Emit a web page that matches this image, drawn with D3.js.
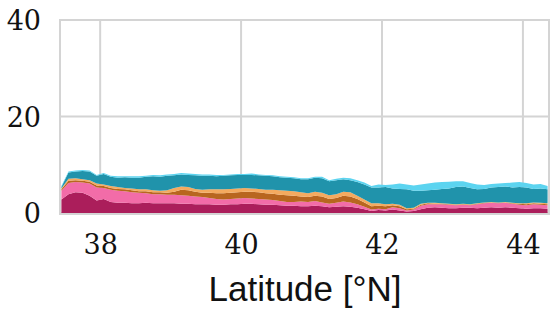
<!DOCTYPE html>
<html><head><meta charset="utf-8">
<script src="https://cdn.jsdelivr.net/npm/d3@7"></script>
<style>body{margin:0;background:#fff}svg{display:block}</style>
</head><body>
<svg id="c" width="552" height="309"></svg>
<script>
const latitude = [37.45,37.55,37.65,37.75,37.85,37.95,38.05,38.15,38.25,38.35,38.45,38.55,38.65,38.75,38.85,38.95,39.05,39.15,39.25,39.35,39.45,39.55,39.65,39.75,39.85,39.95,40.05,40.15,40.25,40.35,40.45,40.55,40.65,40.75,40.85,40.95,41.05,41.15,41.25,41.35,41.45,41.55,41.65,41.75,41.85,41.95,42.05,42.15,42.25,42.35,42.45,42.55,42.65,42.75,42.85,42.95,43.05,43.15,43.25,43.35,43.45,43.55,43.65,43.75,43.85,43.95,44.05,44.15,44.25,44.35];
const s1 = [2.8,3.9,4.3,4.2,3.6,2.6,2.9,2.3,2.1,2.1,2.0,2.0,2.1,2.0,2.0,2.0,2.0,1.9,1.9,1.8,1.8,1.8,1.7,1.7,1.8,1.8,1.9,1.9,1.8,1.7,1.7,1.6,1.5,1.5,1.4,1.4,1.5,1.4,1.2,1.3,1.4,1.3,1.1,0.8,0.4,0.6,0.5,0.7,0.5,0.3,0.4,0.8,1.1,1.2,1.1,1.0,1.0,1.1,1.1,1.0,1.1,1.2,1.1,1.2,1.1,1.0,0.9,1.0,1.0,0.9];
const s2 = [1.8,2.3,2.1,2.1,2.5,2.7,2.3,2.5,2.5,2.4,2.3,2.2,2.0,1.9,1.9,1.8,1.8,1.8,1.7,1.6,1.5,1.3,1.2,1.1,1.1,1.2,1.2,1.1,1.1,1.1,1.0,0.9,0.8,0.8,1.0,0.9,1.0,0.8,0.7,0.8,1.0,0.9,0.7,0.5,0.3,0.3,0.3,0.5,0.5,0.2,0.3,0.7,0.7,0.6,0.7,0.7,0.6,0.6,0.5,0.8,0.9,0.9,0.9,0.9,0.8,0.7,0.7,0.8,0.7,0.7];
const s3 = [0.3,0.5,0.4,0.4,0.4,0.4,0.4,0.4,0.4,0.4,0.4,0.3,0.4,0.4,0.4,0.4,0.6,1.1,1.1,1.0,0.9,1.1,1.2,1.3,1.3,1.3,1.3,1.4,1.4,1.3,1.3,1.3,1.4,1.3,1.0,1.0,1.1,1.2,1.0,1.0,1.2,1.2,1.1,0.9,0.7,0.6,0.6,0.4,0.4,0.3,0.2,0.2,0.2,0.1,0.1,0.1,0.1,0.1,0.1,0.1,0.1,0.1,0.1,0.1,0.1,0.2,0.2,0.2,0.2,0.2];
const s4 = [0.2,0.4,0.4,0.3,0.3,0.4,0.3,0.4,0.4,0.3,0.4,0.4,0.4,0.4,0.3,0.5,0.8,0.7,0.7,0.6,0.6,0.7,0.8,0.8,0.8,0.8,0.8,0.7,0.7,0.7,0.8,0.9,0.9,0.9,0.9,0.8,0.8,0.8,0.8,0.8,0.8,0.9,0.7,0.6,0.6,0.5,0.4,0.3,0.3,0.2,0.2,0.2,0.1,0.2,0.1,0.1,0.1,0.1,0.1,0.1,0.1,0.1,0.1,0.1,0.1,0.1,0.2,0.2,0.2,0.2];
const s5 = [0.3,1.3,1.4,1.7,1.8,1.6,2.2,1.9,1.9,2.2,2.2,2.4,2.6,2.9,2.9,3.0,2.6,2.5,2.5,2.8,2.9,2.8,2.7,2.8,2.8,2.8,2.7,2.8,2.8,2.9,2.8,2.7,2.7,2.7,2.7,2.9,2.9,3.0,2.9,2.9,2.6,2.5,2.8,3.1,3.3,3.3,3.6,3.2,3.3,3.9,3.5,2.7,2.6,2.7,3.0,3.2,3.6,3.6,3.4,2.9,2.8,3.0,3.2,3.2,3.2,3.4,3.3,2.8,3.0,2.9];
const s6 = [0.2,0.2,0.2,0.2,0.2,0.2,0.2,0.2,0.3,0.2,0.3,0.3,0.2,0.3,0.3,0.3,0.3,0.3,0.3,0.3,0.3,0.3,0.3,0.2,0.2,0.2,0.2,0.3,0.2,0.2,0.2,0.2,0.2,0.2,0.2,0.2,0.2,0.3,0.2,0.3,0.3,0.4,0.4,0.4,0.3,0.6,0.4,0.8,1.1,1.0,1.1,1.3,1.4,1.5,1.4,1.4,1.2,1.1,1.0,1.0,0.8,0.7,0.7,0.7,1.0,1.0,0.9,0.9,0.9,0.7];
const seriesKeys = ["s1","s2","s3","s4","s5","s6"];
const seriesColors = ["#ab1e5b","#f26ca8","#b8661f","#f4aa5f","#2093ab","#5cd4f0"];
const xTicks = [38,40,42,44];
const yTicks = [0,20,40];

const table = latitude.map((lat,i)=>({lat, s1:s1[i], s2:s2[i], s3:s3[i], s4:s4[i], s5:s5[i], s6:s6[i]}));

const svg = d3.select("#c");
const L=60, R=549, T=20, B=213;
const x = d3.scaleLinear().domain([37.43,44.37]).range([L,R]);
const y = d3.scaleLinear().domain([0,40]).range([B,T]);

svg.append("defs").append("clipPath").attr("id","clip")
  .append("rect").attr("x",L).attr("y",T).attr("width",R-L).attr("height",B-T);

const grid = svg.append("g");
grid.selectAll(".vx").data(xTicks).join("line")
  .attr("x1",d=>x(d)).attr("x2",d=>x(d)).attr("y1",T).attr("y2",B)
  .attr("stroke","#d4d4d4").attr("stroke-width",2);
grid.selectAll(".hy").data(yTicks).join("line")
  .attr("x1",L).attr("x2",R).attr("y1",d=>y(d)).attr("y2",d=>y(d))
  .attr("stroke","#d4d4d4").attr("stroke-width",2);
grid.append("rect").attr("x",L).attr("y",T).attr("width",R-L).attr("height",B-T)
  .attr("fill","none").attr("stroke","#d4d4d4").attr("stroke-width",2);

const stack = d3.stack().keys(seriesKeys);
const layers = stack(table);
const area = d3.area().x(d=>x(d.data.lat)).y0(d=>y(d[0])).y1(d=>y(d[1]));
svg.append("g").attr("clip-path","url(#clip)")
  .selectAll("path").data(layers).join("path")
  .attr("d",area).attr("fill",(d,i)=>seriesColors[i]);

svg.append("line").attr("x1",L-1).attr("x2",R+1).attr("y1",B+1).attr("y2",B+1)
  .attr("stroke","#d4d4d4").attr("stroke-width",2);

const serif = "DejaVu Serif";
const xAxis = d3.axisBottom(x).tickValues(xTicks).tickSize(0).tickPadding(0).tickFormat(d3.format("d"));
const gx = svg.append("g").attr("transform",`translate(0,${B})`).call(xAxis);
gx.select(".domain").remove();
gx.selectAll("text").attr("dy",null).attr("y",41).attr("fill","#111")
  .style("font-family",serif).style("font-size","27px");

const yAxis = d3.axisLeft(y).tickValues(yTicks).tickSize(0).tickPadding(0).tickFormat(d3.format("d"));
const gy = svg.append("g").attr("transform",`translate(41,0)`).call(yAxis);
gy.select(".domain").remove();
gy.selectAll("text").attr("dy","0.36em").attr("fill","#111")
  .style("font-family",serif).style("font-size","27px");

svg.append("text").attr("x",305).attr("y",301).attr("text-anchor","middle")
  .style("font-family","Liberation Sans").style("font-size","35px").attr("fill","#111")
  .text("Latitude [°N]");
</script>
</body></html>
